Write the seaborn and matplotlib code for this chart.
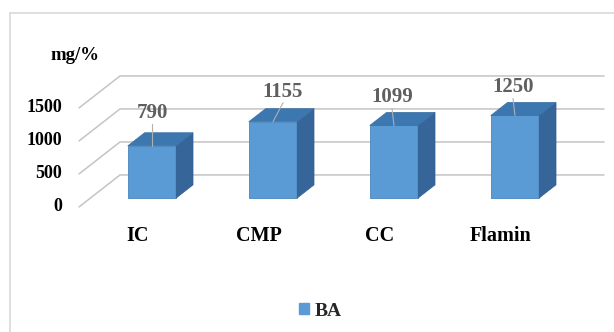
import numpy as np
import pandas as pd
import matplotlib.pyplot as plt
import seaborn as sns
from matplotlib.patches import Polygon
from matplotlib.lines import Line2D
plt.switch_backend('Agg')

# chart values
categories = ['IC', 'CMP', 'CC', 'Flamin']
ba_values = [790, 1155, 1099, 1250]
y_levels = [0, 500, 1000, 1500]
series_name = 'BA'
y_title = 'mg/%'

sns.set_theme(style='white')
plt.rcParams['font.family'] = ['Liberation Serif', 'DejaVu Serif']
plt.rcParams['font.weight'] = 'bold'

W, H, DPI = 614, 332, 100
fig = plt.figure(figsize=(W / DPI, H / DPI), dpi=DPI)

# pixel layout of the bar front plane (0 at y=198, 500 units = 33 px)
px_per_unit = 33 / 500
px_per_cat = 121
x0_px, y0_px = 152, 198
left_px, right_px = 79, 604
top_px, bot_px = 60, 212
xlim = ((left_px - x0_px) / px_per_cat, (right_px - x0_px) / px_per_cat)
ylim = (-(bot_px - y0_px) / px_per_unit, (y0_px - top_px) / px_per_unit)
ax = fig.add_axes([left_px / W, 1 - bot_px / H,
                   (right_px - left_px) / W, (bot_px - top_px) / H])

df = pd.DataFrame({'cat': categories, 'val': ba_values})
sns.barplot(data=df, x='cat', y='val', color='#5b9bd5', width=0.4,
            saturation=1, label=series_name, ax=ax, zorder=3,
            edgecolor='#4a86bd', linewidth=0.6)
ax.set_xlim(*xlim)
ax.set_ylim(*ylim)

# depth vector of the whole floor (41 px right, 32 px up) in data units
depth = np.array([41 / px_per_cat, 32 / px_per_unit])
front_f, back_f = 0.28, 0.69
floor_front = -front_f * depth
floor_back = (1 - front_f) * depth
bar_depth = (back_f - front_f) * depth

grid_col = '#c4c4c4'
for v in y_levels:
    xs = [xlim[0], xlim[0] + depth[0], xlim[1]]
    ys = [v + floor_front[1], v + floor_back[1], v + floor_back[1]]
    ax.plot(xs, ys, color=grid_col, lw=1.1, clip_on=False, zorder=1)
    ax.text(xlim[0] - 17 / px_per_cat, v + floor_front[1], f'{v}',
            ha='right', va='center', fontsize=13, fontweight='bold',
            color='black')

ax.text(xlim[0] - 29 / px_per_cat, (y0_px - 56) / px_per_unit, y_title,
        ha='left', va='center', fontsize=13.5, fontweight='bold', color='black')

# 3d faces and data labels
label_dx = [0, 10, -2, -2]
label_dy = [33, 30, 28, 28]
for i, p in enumerate(ax.patches):
    x0 = p.get_x()
    x1 = x0 + p.get_width()
    h = p.get_height()
    dx, dy = bar_depth
    top = Polygon([(x0, h), (x1, h), (x1 + dx, h + dy), (x0 + dx, h + dy)],
                  closed=True, facecolor='#3d77b0', edgecolor='#3a70a5',
                  lw=0.5, zorder=3)
    side = Polygon([(x1, 0), (x1, h), (x1 + dx, h + dy), (x1 + dx, dy)],
                   closed=True, facecolor='#36659a', edgecolor='#335f90',
                   lw=0.5, zorder=3)
    ax.add_patch(side)
    ax.add_patch(top)
    cx = x0 + p.get_width() / 2
    lx = cx + label_dx[i] / px_per_cat
    ly = h + label_dy[i] / px_per_unit
    ax.plot([lx, cx], [ly - 11 / px_per_unit, h], color='#b0b0b0', lw=0.8,
            zorder=4, clip_on=False)
    ax.text(lx, ly, f'{ba_values[i]}', ha='center', va='center',
            fontsize=15, fontweight='bold', color='#5f5f5f', zorder=5)

# category labels on the front edge of the floor
ax.set_xticks(np.arange(len(categories)) + floor_front[0] - 3 / px_per_cat)
ax.set_xticklabels(categories, fontsize=14.5, fontweight='bold', color='black')
ax.tick_params(axis='x', length=0, pad=10)
ax.set_yticks([])
ax.set_xlabel('')
ax.set_ylabel('')
for s in ax.spines.values():
    s.set_visible(False)
ax.patch.set_alpha(0)

leg = ax.get_legend()
if leg is not None:
    leg.remove()
fig.legend(handles=[plt.Rectangle((0, 0), 1, 1, color='#5b9bd5')],
           labels=[series_name], loc='center',
           bbox_to_anchor=(320 / W, 1 - 311 / H), frameon=False,
           handlelength=0.55, handleheight=0.55, handletextpad=0.25,
           prop={'family': 'Liberation Serif', 'weight': 'bold', 'size': 14})

# chart border (left and top visible)
fig.add_artist(Line2D([10 / W, 10 / W], [0, 1 - 13 / H], color='#d9d9d9',
                      lw=1.2, transform=fig.transFigure))
fig.add_artist(Line2D([10 / W, 1], [1 - 13 / H, 1 - 13 / H], color='#d9d9d9',
                      lw=1.2, transform=fig.transFigure))

fig.savefig('out.png', dpi=DPI)
